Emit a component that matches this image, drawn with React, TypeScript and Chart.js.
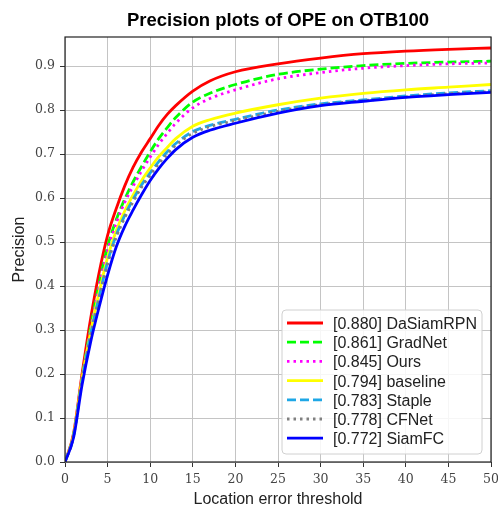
import React, { useEffect, useRef } from 'react';
import { Chart, registerables } from 'chart.js';

Chart.register(...registerables);

const thresholds = [0, 1, 2, 3, 4, 5, 6, 7, 8, 9, 10, 11, 12, 13, 15, 17, 20, 25, 30, 35, 40, 45, 50];

const daSiamRPN = [0, 0.065, 0.2, 0.325, 0.43, 0.515, 0.575, 0.627, 0.67, 0.705, 0.735, 0.765, 0.79, 0.81, 0.843, 0.866, 0.887, 0.905, 0.918, 0.928, 0.934, 0.938, 0.941];
const gradNet = [0, 0.06, 0.19, 0.305, 0.405, 0.49, 0.55, 0.597, 0.637, 0.672, 0.705, 0.735, 0.76, 0.783, 0.818, 0.838, 0.858, 0.881, 0.893, 0.901, 0.906, 0.909, 0.911];
const ours = [0, 0.06, 0.19, 0.3, 0.398, 0.48, 0.542, 0.59, 0.627, 0.662, 0.693, 0.722, 0.747, 0.77, 0.805, 0.826, 0.846, 0.871, 0.885, 0.895, 0.901, 0.905, 0.907];
const baseline = [0, 0.06, 0.19, 0.295, 0.385, 0.465, 0.525, 0.57, 0.607, 0.64, 0.668, 0.694, 0.715, 0.735, 0.763, 0.778, 0.793, 0.812, 0.827, 0.838, 0.846, 0.852, 0.858];
const staple = [0, 0.06, 0.185, 0.29, 0.375, 0.455, 0.515, 0.56, 0.597, 0.63, 0.657, 0.683, 0.705, 0.724, 0.751, 0.765, 0.779, 0.8, 0.814, 0.823, 0.832, 0.839, 0.844];
const cfNet = [0, 0.06, 0.185, 0.285, 0.37, 0.45, 0.51, 0.555, 0.592, 0.625, 0.652, 0.678, 0.7, 0.72, 0.747, 0.762, 0.776, 0.797, 0.812, 0.821, 0.83, 0.837, 0.842];
const siamFC = [0, 0.055, 0.175, 0.272, 0.352, 0.425, 0.488, 0.535, 0.573, 0.608, 0.64, 0.667, 0.69, 0.71, 0.738, 0.754, 0.77, 0.793, 0.81, 0.82, 0.829, 0.835, 0.84];

const trackerNames = ['DaSiamRPN', 'GradNet', 'Ours', 'baseline', 'Staple', 'CFNet', 'SiamFC'];
const trackerScores = [0.88, 0.861, 0.845, 0.794, 0.783, 0.778, 0.772];
const trackerSeries = [daSiamRPN, gradNet, ours, baseline, staple, cfNet, siamFC];
const trackerColors = ['#ff0000', '#00ff00', '#ff00ff', '#ffff00', '#1ea7e6', '#808080', '#0000ff'];
const trackerDashes = [[], [9, 4], [2.5, 4], [], [9, 4], [2.5, 4], []];

const xTicks = [0, 5, 10, 15, 20, 25, 30, 35, 40, 45, 50];
const yTicks = [0, 0.1, 0.2, 0.3, 0.4, 0.5, 0.6, 0.7, 0.8, 0.9];

const chartTitle = 'Precision plots of OPE on OTB100';
const xTitle = 'Location error threshold';
const yTitle = 'Precision';

const SANS = '"Liberation Sans", Arial, sans-serif';
const SERIF = '"DejaVu Serif", "Liberation Serif", serif';

const overlayPlugin = {
  id: 'overlay',
  afterDraw(chart: any) {
    const { ctx, chartArea: a } = chart;
    ctx.save();
    // frame
    ctx.strokeStyle = '#222';
    ctx.lineWidth = 1.2;
    ctx.setLineDash([]);
    ctx.strokeRect(a.left, a.top, a.right - a.left, a.bottom - a.top);

    const cx = (a.left + a.right) / 2;
    const cy = (a.top + a.bottom) / 2;
    ctx.fillStyle = '#000';
    ctx.textAlign = 'center';
    ctx.textBaseline = 'alphabetic';
    ctx.font = `bold 18.5px ${SANS}`;
    ctx.fillText(chartTitle, cx, 26);

    ctx.fillStyle = '#222';
    ctx.font = `16px ${SANS}`;
    ctx.fillText(xTitle, cx, 504);

    ctx.save();
    ctx.translate(24, cy);
    ctx.rotate(-Math.PI / 2);
    ctx.fillText(yTitle, 0, 0);
    ctx.restore();

    // legend
    const w = 200;
    const h = 144;
    const lx = a.right - 9 - w;
    const ly = a.bottom - 8 - h;
    const r = 4;
    ctx.beginPath();
    ctx.moveTo(lx + r, ly);
    ctx.lineTo(lx + w - r, ly);
    ctx.quadraticCurveTo(lx + w, ly, lx + w, ly + r);
    ctx.lineTo(lx + w, ly + h - r);
    ctx.quadraticCurveTo(lx + w, ly + h, lx + w - r, ly + h);
    ctx.lineTo(lx + r, ly + h);
    ctx.quadraticCurveTo(lx, ly + h, lx, ly + h - r);
    ctx.lineTo(lx, ly + r);
    ctx.quadraticCurveTo(lx, ly, lx + r, ly);
    ctx.closePath();
    ctx.fillStyle = 'rgba(255,255,255,0.85)';
    ctx.fill();
    ctx.strokeStyle = '#d0d0d0';
    ctx.lineWidth = 1;
    ctx.stroke();

    ctx.font = `16px ${SANS}`;
    ctx.textAlign = 'left';
    ctx.textBaseline = 'alphabetic';
    chart.data.datasets.forEach((ds: any, i: number) => {
      const y = ly + 13 + i * 19.2;
      ctx.beginPath();
      ctx.strokeStyle = ds.borderColor;
      ctx.lineWidth = ds.borderWidth;
      ctx.setLineDash(ds.borderDash || []);
      ctx.moveTo(lx + 5, y);
      ctx.lineTo(lx + 41, y);
      ctx.stroke();
      ctx.setLineDash([]);
      ctx.fillStyle = '#222';
      ctx.fillText(ds.label, lx + 51, y + 6);
    });
    ctx.restore();
  },
};

export default function App() {
  const canvasRef = useRef<HTMLCanvasElement>(null);

  useEffect(() => {
    if (!canvasRef.current) return;
    const datasets = trackerNames.map((name, i) => ({
      label: `[${trackerScores[i].toFixed(3)}] ${name}`,
      data: thresholds.map((t, j) => ({ x: t, y: trackerSeries[i][j] })),
      borderColor: trackerColors[i],
      backgroundColor: trackerColors[i],
      borderWidth: 2.8,
      borderDash: trackerDashes[i],
      borderCapStyle: 'butt',
      pointRadius: 0,
      fill: false,
      cubicInterpolationMode: 'monotone',
      order: trackerNames.length - 1 - i,
    }));

    const chart = new Chart(canvasRef.current, {
      type: 'line',
      data: { datasets } as any,
      plugins: [overlayPlugin],
      options: {
        animation: false,
        responsive: true,
        maintainAspectRatio: false,
        layout: { padding: { top: 37, right: 7, left: 0, bottom: 0 } },
        plugins: {
          legend: { display: false },
          title: { display: false },
          tooltip: { enabled: false },
        },
        scales: {
          x: {
            type: 'linear',
            min: 0,
            max: 50,
            afterBuildTicks: (s: any) => {
              s.ticks = xTicks.map((v) => ({ value: v }));
            },
            afterFit: (s: any) => {
              s.height = 46;
              s.paddingLeft = 0;
              s.paddingRight = 0;
            },
            ticks: {
              autoSkip: false,
              maxRotation: 0,
              padding: 5,
              color: '#444',
              font: { family: SERIF, size: 12.5 },
              callback: (v: any) => String(v),
            },
            grid: { color: '#c4c4c4', lineWidth: 1, tickColor: '#333', tickLength: 5 },
            border: { display: false },
          },
          y: {
            type: 'linear',
            min: 0,
            max: 0.966,
            afterBuildTicks: (s: any) => {
              s.ticks = yTicks.map((v) => ({ value: v }));
            },
            afterFit: (s: any) => {
              s.width = 65;
              s.paddingTop = 0;
              s.paddingBottom = 0;
            },
            ticks: {
              autoSkip: false,
              padding: 5,
              color: '#444',
              font: { family: SERIF, size: 12.5 },
              callback: (v: any) => Number(v).toFixed(1),
            },
            grid: { color: '#c4c4c4', lineWidth: 1, tickColor: '#333', tickLength: 5 },
            border: { display: false },
          },
        },
      } as any,
    });
    return () => chart.destroy();
  }, []);

  return (
    <div style={{ position: 'fixed', left: 0, top: 0, width: 498, height: 508, background: '#fff' }}>
      <canvas ref={canvasRef} />
    </div>
  );
}
